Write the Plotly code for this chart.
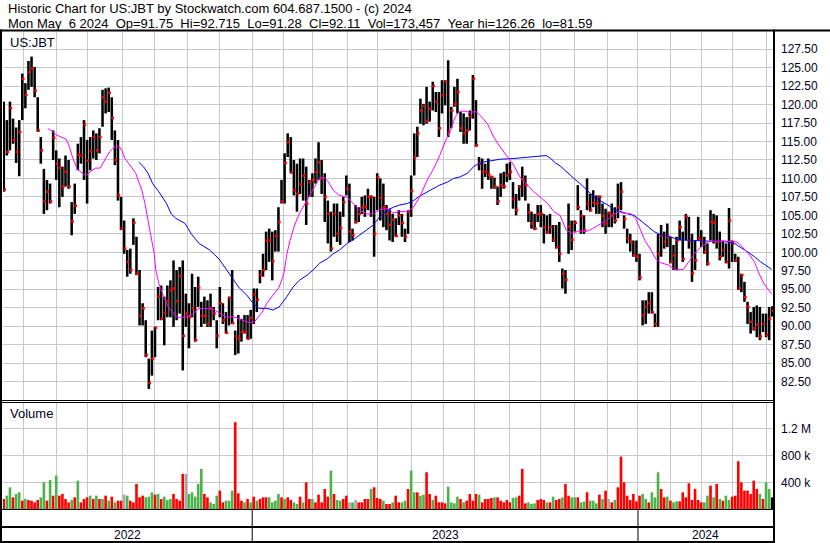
import pandas as pd
import plotly.graph_objects as go

# ---------------- text ----------------
title_line1 = "Historic Chart for US:JBT by Stockwatch.com 604.687.1500 - (c) 2024"
title_line2 = "Mon May  6 2024  Op=91.75  Hi=92.715  Lo=91.28  Cl=92.11  Vol=173,457  Year hi=126.26  lo=81.59"
symbol_label = "US:JBT"
volume_label = "Volume"

# ---------------- calendar ----------------
start_date = "2022-05-11"
end_date = "2024-05-06"
market_holidays = ["2022-05-30", "2022-06-20", "2022-07-04", "2022-09-05", "2022-11-24", "2022-12-26",
                   "2023-01-02", "2023-01-16", "2023-02-20", "2023-04-07", "2023-05-29", "2023-06-19",
                   "2023-07-04", "2023-09-04", "2023-11-23", "2023-12-25",
                   "2024-01-01", "2024-01-15", "2024-02-19", "2024-03-29"]

# ---------------- price bars (each bar = two sessions) ----------------
high = [120.4, 117.9, 120.4, 118.1, 116.9, 117.9, 124.2, 122.9, 125.9, 126.5,
        125.1, 121.0, 115.6, 111.3, 109.8, 109.3, 116.5, 113.8, 112.7, 111.6,
        113.1, 112.5, 106.8, 109.3, 114.7, 115.6, 117.9, 115.2, 115.6, 116.5,
        116.1, 116.8, 122.0, 122.2, 122.3, 121.0, 116.5, 115.2, 107.5, 104.3,
        100.3, 100.5, 104.6, 102.1, 97.6, 93.1, 90.8, 85.6, 89.4, 89.9,
        95.3, 95.5, 94.0, 95.5, 96.2, 98.9, 97.6, 98.0, 98.9, 94.4,
        93.1, 97.1, 95.3, 96.7, 93.3, 94.0, 93.5, 94.4, 92.6, 90.8,
        95.3, 93.1, 91.9, 94.0, 97.6, 89.4, 91.5, 91.0, 91.5, 91.5,
        92.2, 95.1, 95.1, 97.6, 99.8, 102.8, 103.2, 102.8, 103.0, 106.1,
        109.8, 113.4, 116.1, 115.6, 112.5, 112.0, 112.7, 112.7, 111.6, 109.8,
        110.7, 112.7, 114.9, 112.5, 110.7, 107.0, 105.5, 106.6, 106.6, 105.5,
        107.5, 110.4, 109.3, 103.2, 106.4, 106.1, 107.5, 107.7, 108.6, 107.7,
        107.5, 110.7, 110.0, 109.3, 106.4, 105.9, 105.2, 104.6, 105.7, 105.2,
        103.2, 105.7, 110.4, 116.1, 117.0, 120.8, 120.1, 122.4, 120.4, 123.1,
        121.7, 121.7, 123.3, 123.3, 126.0, 119.7, 122.4, 123.5, 119.0, 118.8,
        118.3, 119.2, 124.0, 120.6, 112.9, 112.7, 112.0, 112.7, 110.3, 110.1,
        108.9, 110.7, 110.9, 112.0, 112.2, 109.5, 107.9, 109.1, 111.6, 110.4,
        106.6, 105.5, 105.2, 106.4, 106.4, 105.2, 105.0, 105.2, 103.7, 103.7,
        104.1, 97.8, 97.6, 106.6, 104.3, 104.3, 109.1, 105.7, 105.0, 110.0,
        107.9, 108.4, 107.7, 107.7, 106.6, 105.9, 105.5, 106.6, 106.1, 109.3,
        109.5, 105.0, 103.2, 102.5, 101.6, 101.6, 99.8, 93.5, 93.5, 94.6,
        94.6, 91.7, 102.5, 103.7, 102.8, 103.9, 102.1, 101.0, 102.1, 104.3,
        102.8, 105.2, 104.8, 102.5, 101.6, 104.8, 103.0, 102.1, 101.2, 105.7,
        105.2, 105.0, 102.8, 101.6, 101.2, 106.0, 101.6, 99.8, 99.4, 97.1,
        96.0, 93.3, 91.9, 92.6, 92.8, 92.6, 91.7, 91.7, 92.6, 92.7]
low = [108.2, 113.1, 113.8, 114.7, 112.1, 110.3, 117.9, 119.5, 122.0, 122.4,
       121.0, 116.3, 112.0, 105.2, 105.7, 106.6, 112.5, 109.8, 106.1, 107.5,
       108.9, 108.6, 102.3, 105.2, 111.1, 112.0, 109.8, 106.6, 111.1, 112.7,
       112.5, 113.4, 117.0, 118.8, 119.0, 115.2, 111.8, 107.0, 103.0, 99.8,
       96.7, 97.1, 101.0, 96.9, 90.1, 90.1, 85.8, 81.5, 83.3, 85.8,
       90.8, 90.8, 87.4, 91.2, 91.2, 89.9, 90.8, 91.7, 84.0, 89.9,
       87.0, 91.2, 87.9, 92.6, 89.9, 90.3, 89.9, 89.9, 90.8, 87.0,
       91.2, 90.3, 89.0, 90.1, 90.3, 86.1, 86.3, 87.9, 89.0, 88.2,
       88.3, 90.3, 91.9, 95.8, 96.7, 97.6, 98.7, 96.2, 100.1, 100.1,
       106.6, 106.6, 112.9, 110.7, 107.7, 105.5, 107.9, 107.0, 103.7, 107.5,
       107.5, 109.3, 109.8, 107.9, 104.1, 101.2, 100.1, 102.1, 101.4, 101.0,
       104.8, 107.7, 101.4, 101.6, 103.9, 104.1, 105.2, 104.8, 105.7, 104.8,
       99.4, 105.7, 104.3, 103.4, 103.0, 101.6, 101.4, 102.1, 103.7, 102.1,
       101.4, 102.5, 104.8, 110.4, 112.9, 117.4, 117.2, 117.4, 117.7, 119.2,
       119.0, 115.6, 118.8, 119.9, 115.6, 116.8, 119.7, 118.8, 116.3, 114.7,
       114.7, 116.5, 118.1, 114.3, 111.1, 108.6, 110.2, 109.8, 108.6, 108.6,
       106.4, 107.5, 108.6, 109.5, 109.8, 105.9, 105.0, 107.0, 107.5, 107.0,
       104.1, 103.2, 103.0, 104.1, 103.4, 101.2, 102.5, 102.5, 101.4, 100.5,
       98.7, 95.1, 94.4, 99.8, 100.3, 102.8, 105.7, 102.5, 102.5, 105.7,
       105.5, 106.1, 105.2, 105.2, 103.4, 102.5, 103.4, 103.4, 103.9, 104.6,
       105.7, 103.2, 101.2, 100.1, 99.4, 98.7, 96.2, 90.1, 90.3, 91.7,
       91.7, 89.9, 89.9, 99.4, 100.5, 100.7, 98.5, 97.6, 97.6, 101.6,
       98.7, 101.6, 100.5, 96.0, 97.6, 101.6, 100.7, 99.8, 98.2, 101.6,
       101.2, 100.5, 98.9, 99.4, 98.5, 97.8, 98.7, 98.7, 94.9, 94.6,
       93.3, 90.3, 89.0, 89.4, 88.5, 88.1, 89.2, 88.5, 88.1, 91.3]
close = [108.5, 113.6, 119.5, 115.2, 113.6, 116.3, 123.5, 121.3, 124.4, 124.9,
         121.9, 116.5, 113.8, 106.9, 108.2, 106.9, 115.5, 112.0, 111.4, 108.9,
         110.9, 108.9, 104.2, 106.3, 113.2, 113.1, 117.3, 112.4, 113.7, 115.6,
         113.8, 115.6, 121.0, 120.4, 121.6, 118.2, 112.5, 107.7, 103.2, 100.5,
         98.7, 97.6, 104.0, 97.1, 91.4, 92.4, 86.1, 82.3, 85.6, 89.8,
         94.0, 91.0, 91.8, 93.4, 94.9, 95.1, 93.4, 96.8, 88.7, 91.7,
         91.2, 92.4, 88.1, 95.2, 91.4, 91.4, 90.3, 92.4, 91.7, 88.7,
         93.1, 90.8, 89.1, 93.8, 90.4, 88.6, 88.3, 89.2, 89.2, 88.3,
         91.1, 94.3, 93.6, 96.9, 97.6, 101.6, 101.6, 98.8, 102.2, 104.1,
         106.9, 112.1, 114.9, 110.8, 108.4, 107.9, 109.2, 110.4, 106.6, 109.5,
         109.8, 110.9, 112.2, 110.0, 107.5, 105.2, 100.5, 105.2, 102.5, 103.3,
         106.8, 108.6, 102.8, 102.3, 104.1, 105.2, 106.1, 106.2, 107.5, 107.5,
         102.5, 110.2, 107.4, 106.1, 105.2, 103.7, 104.4, 102.2, 105.0, 104.0,
         102.1, 105.5, 108.3, 112.9, 116.1, 119.2, 119.8, 117.8, 119.4, 122.5,
         120.4, 116.8, 121.3, 123.1, 116.3, 119.2, 120.1, 121.7, 116.8, 116.1,
         116.5, 118.4, 123.5, 114.5, 112.0, 110.9, 110.9, 110.5, 110.2, 108.9,
         106.9, 109.1, 108.9, 110.4, 110.9, 107.2, 105.7, 108.9, 109.9, 109.1,
         105.4, 103.9, 103.2, 105.2, 105.2, 103.4, 102.7, 103.4, 101.7, 100.7,
         99.8, 97.1, 96.3, 103.5, 101.7, 104.0, 106.1, 104.9, 103.0, 106.6,
         105.7, 106.7, 106.6, 107.5, 104.9, 103.9, 105.3, 105.0, 104.3, 106.1,
         108.2, 104.5, 101.9, 101.4, 99.6, 99.4, 96.6, 91.5, 92.6, 93.1,
         91.9, 90.3, 99.8, 102.3, 101.4, 102.1, 98.7, 99.6, 101.6, 103.4,
         99.1, 104.8, 101.6, 97.2, 98.9, 101.9, 101.6, 100.1, 98.5, 104.1,
         104.0, 101.4, 99.4, 100.3, 98.7, 104.3, 101.2, 98.9, 95.1, 96.9,
         93.9, 92.6, 90.6, 89.7, 90.2, 88.6, 90.3, 88.8, 91.0, 92.1]

# volume in thousands of shares, and colour direction (g up, r down, n unchanged)
volume_k = [150, 200, 325, 175, 225, 250, 125, 150, 135, 125, 100, 135, 175, 400, 125, 435, 200, 500, 200, 225,
            150, 100, 135, 175, 425, 100, 150, 175, 200, 150, 200, 150, 150, 200, 125, 185, 100, 125, 125, 215,
            200, 125,
            100, 375, 175, 200, 175, 185, 250, 215, 225, 150, 185, 135, 150, 225, 150, 125, 525, 525, 225, 250,
            185, 375, 600, 225, 175, 100, 75, 200, 275, 100, 125, 125, 275, 1300, 235, 125, 100, 150, 100, 185,
            125,
            150, 175, 175, 175, 100, 125, 225, 175, 150, 175, 135, 100, 75, 185, 100, 400, 150, 150, 100, 215,
            100, 300, 185, 575, 225, 135, 125, 150, 200, 100, 100, 135, 100, 100, 150, 150, 300, 325, 165, 150,
            125, 75,
            75, 100, 200, 100, 100, 125, 300, 575, 250, 250, 200, 215, 550, 225, 135, 200, 100, 100, 85, 335,
            100, 85, 185, 150, 100, 125, 225, 125, 225, 215, 100, 150, 150, 165, 175, 175, 125, 100, 135, 100,
            165,
            175, 200, 600, 85, 100, 75, 85, 135, 150, 135, 100, 100, 185, 135, 150, 175, 375, 200, 175, 175,
            175, 100, 110, 250, 125, 125, 85, 215, 150, 275, 150, 100, 135, 325, 785, 400, 200, 135, 225, 115,
            200, 225,
            150, 100, 250, 175, 550, 300, 175, 185, 125, 100, 115, 115, 250, 175, 385, 135, 300, 135, 100, 100,
            200, 350, 175, 375, 150, 125, 200, 135, 185, 200, 715, 400, 275, 275, 225, 425, 300, 225, 150, 400,
            300, 175]
volume_dir = ("rggrggrgrrrrggrgrgrrrrgrgrrrgrgrgrgrgrrn"
              "grrrrrgggrgrgggrrrrngggggrrgggrrgggrrrgrgr"
              "grrrggggrgrrggrgrrgrrrrrgrggrrngnrrrrgrrrg"
              "rrgrrggrggrggrrgrrrrggggrgrrrrgrrrrgrrrrr"
              "ggrrrgggrrrgrgrrgrrggrggrgggrgrnrgrrrrrrrr"
              "ggrgggrrgrggrrrrrrrrggrgrgrggrrrrrrrrrgrgg")

# ---------------- moving averages ----------------
ma_short_day = [29, 31, 35, 41, 43, 45, 48, 52, 54, 57, 60, 63, 66, 69, 72, 75, 77, 79, 83, 86,
                90, 92, 94, 96, 98, 99, 101, 104, 107, 110, 113, 118, 122, 127, 133, 137, 142, 145, 149, 153,
                159, 163, 168, 171, 175, 179, 182, 184, 186, 189, 192, 196, 199, 202, 205, 208, 211, 214, 218, 223,
                227, 231, 236, 240, 244, 249, 253, 257, 262, 266, 270, 275, 279, 283, 287, 290, 293, 296, 300, 303,
                306, 309, 314, 318, 322, 327, 331, 335, 340, 344, 348, 353, 357, 361, 365, 369, 373, 378, 382, 386,
                391, 395, 399, 402, 407, 410, 413, 416, 420, 423, 426, 431, 436, 441, 445, 448, 452, 457, 461, 465,
                470, 474, 477, 480, 484, 487, 490, 493, 498]
ma_short = [116.75, 116.5, 115.85, 115.3, 114.3, 112.9, 111.3, 110.6, 110.4, 111.0, 111.4, 111.4, 112.5, 113.6,
            114.2, 114.4, 113.8, 112.7, 111.6, 110.7,
            108.4, 106.6, 104.3, 102.1, 99.8, 97.6, 95.8, 94.0, 92.6, 91.9, 91.2, 91.2, 91.5, 92.4, 92.4, 92.2,
            91.5, 91.2, 91.3, 91.0,
            90.5, 90.6, 91.9, 93.1, 94.2, 95.3, 97.1, 99.8, 101.6, 103.7, 105.2, 106.6, 107.7, 108.9, 110.0,
            110.2, 109.5, 108.4, 107.7, 107.5,
            106.6, 105.7, 105.2, 105.2, 105.8, 105.9, 105.3, 105.5, 105.5, 106.1, 107.5, 109.8, 111.3, 113.1,
            115.2, 116.5, 118.3, 119.1, 119.1, 118.9,
            119.1, 118.6, 117.4, 115.6, 114.3, 112.9, 111.8, 110.2, 109.1, 108.2, 107.5, 106.6, 105.5, 105.0,
            103.0, 102.5, 102.9, 102.8, 103.2, 103.7,
            104.3, 105.0, 105.5, 105.3, 105.2, 104.6, 103.2, 101.6, 100.3, 99.1, 98.6, 98.3, 97.6, 97.7, 98.9,
            99.8, 100.7, 101.4, 101.5, 101.5,
            101.5, 101.5, 101.2, 100.5, 99.6, 98.7, 97.1, 95.8, 94.4]
ma_long_day = [88, 91, 94, 97, 101, 106, 109, 112, 118, 122, 127, 134, 140, 145, 149, 153, 158, 162, 166, 171,
               175, 179, 184, 188, 192, 197, 201, 205, 210, 214, 218, 223, 227, 231, 236, 240, 244, 249, 253, 257,
               262, 266, 270, 275, 279, 283, 288, 292, 296, 301, 305, 308, 311, 316, 322, 331, 340, 348, 352, 355,
               358, 361, 366, 370, 374, 379, 383, 387, 392, 396, 400, 405, 409, 413, 418, 422, 426, 431, 435, 439,
               448, 457, 465, 470, 474, 478, 483, 487, 491, 496, 498]
ma_long = [112.2, 111.6, 110.7, 109.3, 108.2, 106.6, 105.2, 104.6, 103.9, 102.5, 101.2, 100.3, 99.1, 97.6, 96.5,
           95.2, 94.2, 93.1, 92.4, 92.4,
           92.2, 92.6, 94.0, 95.3, 96.2, 96.9, 97.6, 98.5, 99.1, 99.8, 100.3, 101.2, 101.7, 102.3, 103.0, 103.7,
           104.8, 105.7, 106.1, 106.4,
           106.6, 107.0, 107.6, 108.2, 108.6, 109.1, 109.5, 110.0, 110.2, 110.7, 111.6, 112.0, 112.2, 112.4, 112.6,
           112.7, 112.9, 113.1, 113.1, 112.7,
           112.1, 111.7, 110.7, 110.0, 109.3, 108.3, 107.5, 107.0, 106.4, 105.8, 105.5, 105.2, 105.0, 104.3, 103.4,
           102.8, 102.4, 102.2, 101.9, 101.7,
           101.6, 101.5, 101.5, 101.4, 101.2, 100.7, 100.0, 99.4, 98.7, 98.0, 97.7]

# ---------------- axis ticks ----------------
price_ticks = [82.5, 85.0, 87.5, 90.0, 92.5, 95.0, 97.5, 100.0, 102.5, 105.0, 107.5, 110.0,
               112.5, 115.0, 117.5, 120.0, 122.5, 125.0, 127.5]
volume_ticks = [400000, 800000, 1200000]
volume_tick_text = ["400 k", "800 k", "1.2 M"]

# ---------------- derived positions ----------------
days = pd.bdate_range(start_date, end_date, freq="C", holidays=market_holidays)
n_days = len(days)
months = days.to_period("M")
month_bounds = [k - 0.5 for k in range(1, n_days) if months[k] != months[k - 1]]
year_bounds = [k - 0.5 for k in range(1, n_days) if days[k].year != days[k - 1].year]
year_labels = [str(days[0].year)] + [str(days[int(b + 0.5)].year) for b in year_bounds]
seg_edges = [0] + year_bounds + [n_days]

n_bars = len(close)
bar_x = [2 * i + 0.5 for i in range(n_bars)]
vol = [v * 1000 for v in volume_k]
dir_color = {"g": "#4cb34c", "r": "#ff0000", "n": "#a8a8a8"}
vol_colors = [dir_color[c] for c in volume_dir]

FONT = "Liberation Sans, Arial, sans-serif"
W, H = 830, 543
ML, MR, MT, MB = 3, 57, 32, 34
PW, PH = W - ML - MR, H - MT - MB


def xp(px):
    return (px - ML) / PW


def yp(py):
    return (H - MB - py) / PH


def nb(s):
    return s.replace("  ", " \u00a0")


fig = go.Figure()

fig.add_trace(go.Bar(x=bar_x, y=[h - l for h, l in zip(high, low)], base=low, width=1.65,
                     marker=dict(color="black", line=dict(width=0)), xaxis="x", yaxis="y",
                     hoverinfo="skip", showlegend=False))
fig.add_trace(go.Scatter(x=[b + 0.6 for b in bar_x], y=close, mode="markers",
                         marker=dict(symbol="square", size=2.6, color="#ff0000", line=dict(width=0)),
                         xaxis="x", yaxis="y", hoverinfo="skip", showlegend=False))
fig.add_trace(go.Scatter(x=ma_long_day, y=ma_long, mode="lines", line=dict(color="#0000ff", width=1),
                         xaxis="x", yaxis="y", hoverinfo="skip", showlegend=False))
fig.add_trace(go.Scatter(x=ma_short_day, y=ma_short, mode="lines", line=dict(color="#ff00ff", width=1),
                         xaxis="x", yaxis="y", hoverinfo="skip", showlegend=False))
fig.add_trace(go.Bar(x=bar_x, y=vol, width=1.7, marker=dict(color=vol_colors, line=dict(width=0)),
                     xaxis="x2", yaxis="y2", hoverinfo="skip", showlegend=False))

price_top = 127.5 + (49.2 - MT) * (45 / 332.3)
vol_top = (509 - 403) * (400000 / 26.7)

axis_common = dict(showgrid=True, gridcolor="#c8c8c8", gridwidth=1, zeroline=False, showline=False,
                   ticks="", fixedrange=True)
fig.update_layout(
    width=W, height=H, margin=dict(l=ML, r=MR, t=MT, b=MB, pad=0),
    paper_bgcolor="white", plot_bgcolor="white", barmode="overlay", showlegend=False,
    font=dict(family=FONT, size=12, color="#000022"),
    xaxis=dict(domain=[0, 1], range=[0, n_days], tickvals=month_bounds, showticklabels=False,
               anchor="y", **axis_common),
    xaxis2=dict(domain=[0, 1], range=[0, n_days], tickvals=month_bounds, showticklabels=False,
                anchor="y2", matches="x", **axis_common),
    yaxis=dict(domain=[yp(400), 1], range=[80, price_top], side="right", tickvals=price_ticks,
               ticktext=["%.2f" % t for t in price_ticks], ticklabelstandoff=7,
               tickfont=dict(family=FONT, size=12, color="#000022"), anchor="x", **axis_common),
    yaxis2=dict(domain=[0, yp(403)], range=[0, vol_top], side="right", tickvals=volume_ticks,
                ticktext=volume_tick_text, ticklabelstandoff=7,
                tickfont=dict(family=FONT, size=12, color="#000022"), anchor="x2", **axis_common),
)

shapes = []


def rect(x0, x1, y0, y1, color="black"):
    shapes.append(dict(type="rect", xref="paper", yref="paper", x0=xp(x0), x1=xp(x1),
                       y0=yp(y1), y1=yp(y0), fillcolor=color, line=dict(width=0), layer="above"))


rect(0, 830, 29.5, 31.5)          # header rule
rect(0, 2, 29.5, 543)             # left frame
rect(773, 775, 29.5, 543)         # right axis rule
rect(0, 775, 400, 401)            # double rule between panels
rect(0, 775, 402, 403)
rect(0, 775, 509, 510)            # bottom of volume panel
rect(0, 775, 526, 528)            # rule in date strip
rect(0, 775, 541, 543)            # bottom frame
for b in year_bounds:
    shapes.append(dict(type="line", xref="x", yref="paper", x0=b, x1=b, y0=yp(510), y1=yp(541),
                       line=dict(color="black", width=1), layer="above"))
fig.update_layout(shapes=shapes)

ann = []
ann.append(dict(text=nb(title_line1), x=xp(6), y=yp(9), xref="paper", yref="paper", xanchor="left",
                yanchor="middle", showarrow=False, font=dict(family=FONT, size=13, color="black")))
ann.append(dict(text=nb(title_line2), x=xp(6), y=yp(23), xref="paper", yref="paper", xanchor="left",
                yanchor="middle", showarrow=False, font=dict(family=FONT, size=13, color="black")))
ann.append(dict(text=symbol_label, x=xp(8), y=yp(42), xref="paper", yref="paper", xanchor="left",
                yanchor="middle", showarrow=False, font=dict(family=FONT, size=13, color="#000022")))
ann.append(dict(text=volume_label, x=xp(8), y=yp(413), xref="paper", yref="paper", xanchor="left",
                yanchor="middle", showarrow=False, font=dict(family=FONT, size=13, color="#000022")))
for k, lab in enumerate(year_labels):
    ann.append(dict(text=lab, x=(seg_edges[k] + seg_edges[k + 1]) / 2, y=yp(535), xref="x", yref="paper",
                    xanchor="center", yanchor="middle", showarrow=False,
                    font=dict(family=FONT, size=12, color="#000022")))
fig.update_layout(annotations=ann)

fig.write_html("out.html", config={"displayModeBar": False, "staticPlot": True},
               post_script="document.documentElement.style.margin='0';"
                           "document.body.style.margin='0';document.body.style.padding='0';"
                           "document.body.style.overflow='hidden';")
